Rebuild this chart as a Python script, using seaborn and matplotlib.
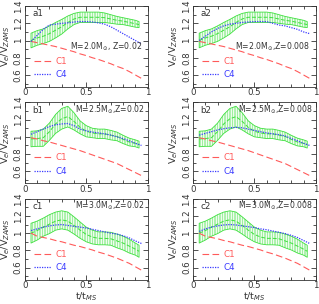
import numpy as np
import pandas as pd
import matplotlib
matplotlib.use("Agg")
import matplotlib.pyplot as plt
import seaborn as sns
from matplotlib.ticker import MultipleLocator, FuncFormatter

# ---------------- data ----------------
t = [0.05, 0.10, 0.15, 0.20, 0.25, 0.30, 0.35, 0.40, 0.45, 0.50,
     0.55, 0.60, 0.65, 0.70, 0.75, 0.80, 0.85, 0.90, 0.95]
t_band = [0.05, 0.10, 0.15, 0.20, 0.25, 0.30, 0.35, 0.40, 0.45, 0.50,
          0.55, 0.60, 0.65, 0.70, 0.75, 0.80, 0.85, 0.90, 0.93]

c1_a = [0.99, 0.975, 0.96, 0.945, 0.93, 0.91, 0.89, 0.87, 0.845, 0.825,
        0.80, 0.78, 0.755, 0.73, 0.70, 0.675, 0.64, 0.60, 0.56]
c1_b = [0.99, 0.975, 0.955, 0.94, 0.92, 0.90, 0.88, 0.86, 0.84, 0.815,
        0.79, 0.765, 0.74, 0.715, 0.69, 0.655, 0.62, 0.585, 0.55]
c1_c = [1.00, 0.965, 0.95, 0.935, 0.915, 0.90, 0.88, 0.86, 0.845, 0.825,
        0.805, 0.78, 0.76, 0.735, 0.71, 0.68, 0.65, 0.61, 0.57]

c4_a1 = [0.99, 1.06, 1.13, 1.18, 1.19, 1.20, 1.205, 1.215, 1.22, 1.22,
         1.215, 1.205, 1.19, 1.16, 1.12, 1.08, 1.04, 1.00, 0.96]
c4_a2 = [1.00, 1.05, 1.10, 1.14, 1.17, 1.19, 1.20, 1.21, 1.215, 1.22,
         1.22, 1.22, 1.20, 1.18, 1.17, 1.15, 1.13, 1.10, 1.08]
c4_b1 = [1.03, 1.06, 1.09, 1.12, 1.14, 1.15, 1.155, 1.13, 1.09, 1.07,
         1.055, 1.045, 1.035, 1.02, 1.00, 0.98, 0.955, 0.925, 0.90]
c4_b2 = [1.02, 1.04, 1.06, 1.08, 1.095, 1.105, 1.11, 1.105, 1.09, 1.075,
         1.06, 1.045, 1.035, 1.025, 1.01, 0.98, 0.955, 0.925, 0.90]
c4_c1 = [1.03, 1.05, 1.07, 1.085, 1.095, 1.10, 1.09, 1.08, 1.07, 1.06,
         1.045, 1.03, 1.015, 1.00, 0.99, 0.97, 0.945, 0.91, 0.88]
c4_c2 = [1.02, 1.05, 1.07, 1.085, 1.095, 1.10, 1.095, 1.085, 1.075, 1.065,
         1.05, 1.04, 1.025, 1.01, 0.995, 0.975, 0.95, 0.915, 0.88]

mean_a = [1.00, 1.03, 1.05, 1.08, 1.12, 1.16, 1.21, 1.25, 1.27, 1.27,
          1.27, 1.27, 1.265, 1.25, 1.235, 1.225, 1.21, 1.195, 1.185]
err_a = [0.085, 0.085, 0.085, 0.09, 0.09, 0.085, 0.075, 0.065, 0.06, 0.06,
         0.06, 0.06, 0.055, 0.05, 0.045, 0.04, 0.04, 0.04, 0.035]
mean_b = [0.975, 0.98, 0.99, 1.06, 1.15, 1.21, 1.235, 1.18, 1.11, 1.065,
          1.045, 1.035, 1.035, 1.02, 1.005, 0.97, 0.94, 0.925, 0.91]
err_b = [0.09, 0.09, 0.10, 0.10, 0.11, 0.12, 0.12, 0.10, 0.075, 0.065,
         0.055, 0.055, 0.055, 0.055, 0.05, 0.048, 0.045, 0.04, 0.04]
mean_c = [1.00, 1.03, 1.07, 1.105, 1.14, 1.155, 1.14, 1.09, 1.035, 0.985,
          0.955, 0.94, 0.94, 0.935, 0.91, 0.885, 0.85, 0.815, 0.79]
err_c = [0.115, 0.11, 0.105, 0.11, 0.105, 0.105, 0.105, 0.10, 0.095, 0.085,
         0.08, 0.075, 0.075, 0.075, 0.08, 0.08, 0.08, 0.07, 0.07]

panel_labels = ["a1", "a2", "b1", "b2", "c1", "c2"]
panel_notes = ["M=2.0M$_{\\odot}$, Z=0.02", "M=2.0M$_{\\odot}$,Z=0.008",
               "M=2.5M$_{\\odot}$,Z=0.02", "M=2.5M$_{\\odot}$,Z=0.008",
               "M=3.0M$_{\\odot}$,Z=0.02", "M=3.0M$_{\\odot}$,Z=0.008"]
c1_series = [c1_a, c1_a, c1_b, c1_b, c1_c, c1_c]
c4_series = [c4_a1, c4_a2, c4_b1, c4_b2, c4_c1, c4_c2]
mean_series = [mean_a, mean_a, mean_b, mean_b, mean_c, mean_c]
err_series = [err_a, err_a, err_b, err_b, err_c, err_c]

# ---------------- style ----------------
sns.set_style("ticks")
plt.rcParams["font.family"] = ["DejaVu Sans"]
plt.rcParams["hatch.linewidth"] = 0.35
RED = "#ff5a5a"
BLUE = "#3a3aff"
GREEN = "#3ee03e"
TXT = "#333333"

fig, axes = plt.subplots(3, 2, figsize=(3.19, 3.04), dpi=100)
fig.subplots_adjust(left=0.078, right=0.99, bottom=0.08, top=0.980,
                    wspace=0.37, hspace=0.19)

for i, ax in enumerate(axes.flat):
    mean = np.array(mean_series[i])
    err = np.array(err_series[i])
    ax.fill_between(t_band, mean - err, mean + err, facecolor="none",
                    edgecolor=GREEN, hatch="|" * 10, linewidth=0.6, zorder=1)
    df = pd.DataFrame({"t": t, "C1": c1_series[i], "C4": c4_series[i]})
    dfm = pd.DataFrame({"t": t_band, "mean": mean})
    sns.lineplot(data=dfm, x="t", y="mean", color=GREEN, linestyle=(0, (4, 2)),
                 linewidth=0.7, ax=ax, zorder=2)
    sns.lineplot(data=df, x="t", y="C1", color=RED, linestyle=(0, (6, 3)),
                 linewidth=0.8, ax=ax, label="C1", zorder=3)
    sns.lineplot(data=df, x="t", y="C4", color=BLUE, linestyle=(0, (1, 1)),
                 linewidth=0.9, ax=ax, label="C4", zorder=3)

    ax.set_xlim(0, 1)
    ax.set_ylim(0.46, 1.4)
    ax.xaxis.set_major_locator(MultipleLocator(0.5))
    ax.xaxis.set_minor_locator(MultipleLocator(0.1))
    ax.yaxis.set_major_locator(MultipleLocator(0.2))
    ax.yaxis.set_minor_locator(MultipleLocator(0.1))
    fmt = FuncFormatter(lambda v, p: "%g" % round(v, 2))
    ax.xaxis.set_major_formatter(fmt)
    ax.yaxis.set_major_formatter(fmt)
    ax.tick_params(which="both", direction="in", top=True, right=True,
                   labelsize=6.2, colors=TXT, width=0.6)
    ax.tick_params(which="major", length=3.5)
    ax.tick_params(which="minor", length=2)
    ax.tick_params(axis="x", pad=1)
    ax.tick_params(axis="y", pad=1.5)
    for lab in ax.get_yticklabels():
        lab.set_rotation(90)
        lab.set_va("center")
    for s in ax.spines.values():
        s.set_linewidth(0.6)
        s.set_color(TXT)

    ax.set_ylabel("V$_e$/V$_{ZAMS}$", fontsize=6.8, color=TXT, labelpad=1.5)
    if i >= 4:
        ax.set_xlabel("t/t$_{MS}$", fontsize=6.8, color=TXT, labelpad=0)
    else:
        ax.set_xlabel("")

    ax.text(0.06, 1.31, panel_labels[i], fontsize=6.3, color=TXT,
            ha="left", va="center")
    if i < 2:
        ax.text(0.955, 0.93, panel_notes[i], fontsize=5.6, color=TXT,
                ha="right", va="center")
    else:
        ax.text(0.975, 1.32, panel_notes[i], fontsize=5.6, color=TXT,
                ha="right", va="center")

    ax.legend(loc="lower left", bbox_to_anchor=(0.03, 0.03), frameon=False,
              fontsize=6.3, labelcolor="linecolor", handlelength=2.0,
              handletextpad=0.5, labelspacing=0.5, borderaxespad=0.2)

fig.savefig("out.png", dpi=100)
